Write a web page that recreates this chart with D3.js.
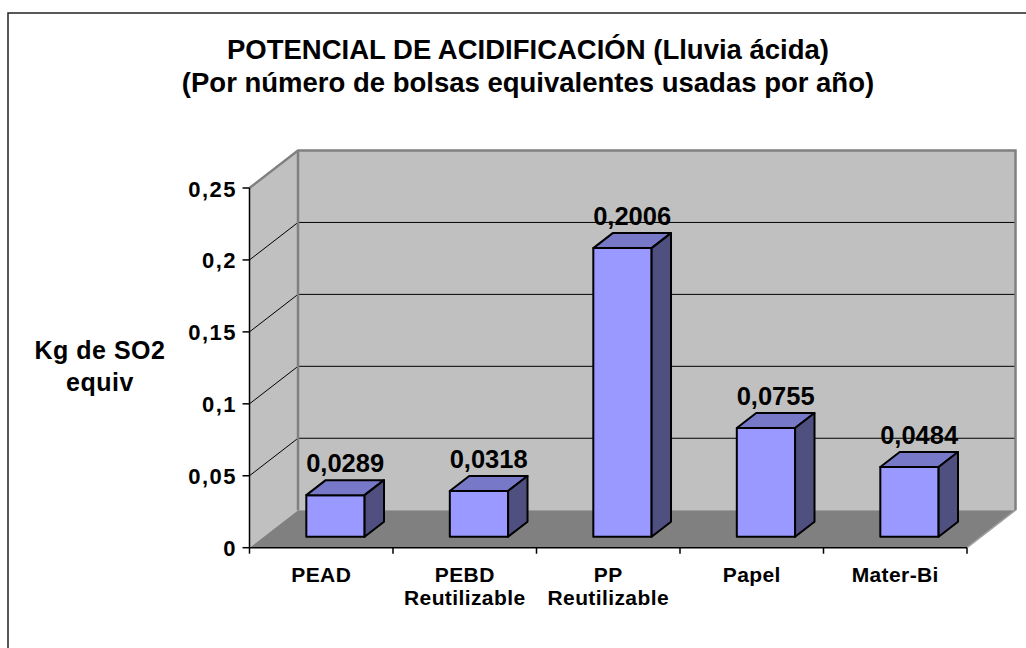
<!DOCTYPE html>
<html><head><meta charset="utf-8">
<script src="https://cdn.jsdelivr.net/npm/d3@7"></script>
<style>html,body{margin:0;padding:0;background:#fff;}svg{display:block;}text{font-family:"Liberation Sans",Arial,sans-serif;font-weight:bold;fill:#000;}</style>
</head><body>
<script>
const categories = [["PEAD"], ["PEBD","Reutilizable"], ["PP","Reutilizable"], ["Papel"], ["Mater-Bi"]];
const values = [0.0289, 0.0318, 0.2006, 0.0755, 0.0484];
const valueLabels = ["0,0289", "0,0318", "0,2006", "0,0755", "0,0484"];
const yTicks = [0, 0.05, 0.1, 0.15, 0.2, 0.25];
const yTickLabels = ["0", "0,05", "0,1", "0,15", "0,2", "0,25"];
const titleLines = ["POTENCIAL DE ACIDIFICACIÓN (Lluvia ácida)", "(Por número de bolsas equivalentes usadas por año)"];
const yTitleLines = ["Kg de SO2", "equiv"];

const W = 1026, H = 648;
const svg = d3.select("body").append("svg").attr("width", W).attr("height", H);

// outer border
svg.append("rect").attr("x", 8).attr("y", 13).attr("width", 1040).attr("height", 660)
  .attr("fill", "#fff").attr("stroke", "#222").attr("stroke-width", 1.5);

const x0 = 249.5, x1 = 967;
const DX = 48.5, DY = -37.5;
const x = d3.scaleBand().domain(d3.range(categories.length)).range([x0, x1]);
const y = d3.scaleLinear().domain([0, 0.25]).range([547.7, 188]);

const wallFill = "#C0C0C0", wallStroke = "#808080";
// side wall
svg.append("polygon").attr("points", [[x0, y(0)], [x0, y(0.25)], [x0 + DX, y(0.25) + DY], [x0 + DX, y(0) + DY]].join(" "))
  .attr("fill", wallFill).attr("stroke", "none");
// back wall
svg.append("polygon").attr("points", [[x0 + DX, y(0.25) + DY], [x1 + DX, y(0.25) + DY], [x1 + DX, y(0) + DY], [x0 + DX, y(0) + DY]].join(" "))
  .attr("fill", wallFill).attr("stroke", "none");
// floor
svg.append("polygon").attr("points", [[x0, y(0)], [x0 + DX, y(0) + DY], [x1 + DX, y(0) + DY], [x1, y(0)]].join(" "))
  .attr("fill", "#808080").attr("stroke", "none");
svg.append("line").attr("x1", x1).attr("y1", y(0)).attr("x2", x1 + DX).attr("y2", y(0) + DY)
  .attr("stroke", "#a0a0a0").attr("stroke-width", 1.5);

// gridlines
const grid = yTicks.filter(v => v > 0 && v < 0.25);
grid.forEach(v => {
  svg.append("polyline").attr("points", [[x0, y(v)], [x0 + DX, y(v) + DY], [x1 + DX, y(v) + DY]].join(" "))
    .attr("fill", "none").attr("stroke", "#000").attr("stroke-width", 1);
});
// wall borders
svg.append("polyline").attr("points", [[x0, y(0.25)], [x0 + DX, y(0.25) + DY], [x1 + DX, y(0.25) + DY], [x1 + DX, y(0) + DY]].join(" "))
  .attr("fill", "none").attr("stroke", wallStroke).attr("stroke-width", 2.5);
svg.append("line").attr("x1", x0 + DX).attr("y1", y(0.25) + DY).attr("x2", x0 + DX).attr("y2", y(0) + DY)
  .attr("stroke", wallStroke).attr("stroke-width", 2.5);

// axes
svg.append("line").attr("x1", x0).attr("y1", y(0.25)).attr("x2", x0).attr("y2", y(0)).attr("stroke", "#000").attr("stroke-width", 1.5);
svg.append("line").attr("x1", x0).attr("y1", y(0)).attr("x2", x1).attr("y2", y(0)).attr("stroke", "#000").attr("stroke-width", 1.5);
yTicks.forEach((v, i) => {
  svg.append("line").attr("x1", x0 - 7).attr("x2", x0).attr("y1", y(v)).attr("y2", y(v)).attr("stroke", "#000").attr("stroke-width", 1.5);
  svg.append("text").attr("x", 237).attr("y", y(v) + 8.5).attr("text-anchor", "end")
    .style("font-size", "22px").style("letter-spacing", "1.5px").text(yTickLabels[i]);
});
d3.range(categories.length + 1).forEach(i => {
  const xx = x0 + i * x.step();
  svg.append("line").attr("x1", xx).attr("x2", xx).attr("y1", y(0)).attr("y2", y(0) + 6).attr("stroke", "#000").attr("stroke-width", 1.5);
});
categories.forEach((lines, i) => {
  const cx = x(i) + x.bandwidth() / 2;
  lines.forEach((t, j) => {
    svg.append("text").attr("x", cx).attr("y", 582 + j * 23).attr("text-anchor", "middle")
      .style("font-size", "21px").style("letter-spacing", "0.4px").text(t);
  });
});

// bars
const f1 = 0.293, f2 = 0.693, barW = 58.3;
values.forEach((v, i) => {
  const cx = x(i) + x.bandwidth() / 2 + f1 * DX;
  const yb = y(0) + f1 * DY, yt = yb - (y(0) - y(v));
  const l = cx - barW / 2, r = cx + barW / 2;
  const ddx = (f2 - f1) * DX, ddy = (f2 - f1) * DY;
  const g = svg.append("g").attr("stroke", "#000").attr("stroke-width", 2).attr("stroke-linejoin", "round");
  g.append("polygon").attr("points", [[l, yt], [r, yt], [r, yb], [l, yb]].join(" ")).attr("fill", "#9999FF");
  g.append("polygon").attr("points", [[l, yt], [l + ddx, yt + ddy], [r + ddx, yt + ddy], [r, yt]].join(" ")).attr("fill", "#7878C8");
  g.append("polygon").attr("points", [[r, yt], [r + ddx, yt + ddy], [r + ddx, yb + ddy], [r, yb]].join(" ")).attr("fill", "#4F4F80");
  svg.append("text").attr("x", cx + ddx / 2).attr("y", yt + ddy - 8).attr("text-anchor", "middle")
    .style("font-size", "25.5px").text(valueLabels[i]);
});

// titles
titleLines.forEach((t, i) => {
  svg.append("text").attr("x", 528).attr("y", 59 + i * 33).attr("text-anchor", "middle")
    .style("font-size", "27.5px").text(t);
});
yTitleLines.forEach((t, i) => {
  svg.append("text").attr("x", 100).attr("y", 359 + i * 32).attr("text-anchor", "middle")
    .style("font-size", "25px").style("letter-spacing", "0.5px").text(t);
});
</script>
</body></html>
